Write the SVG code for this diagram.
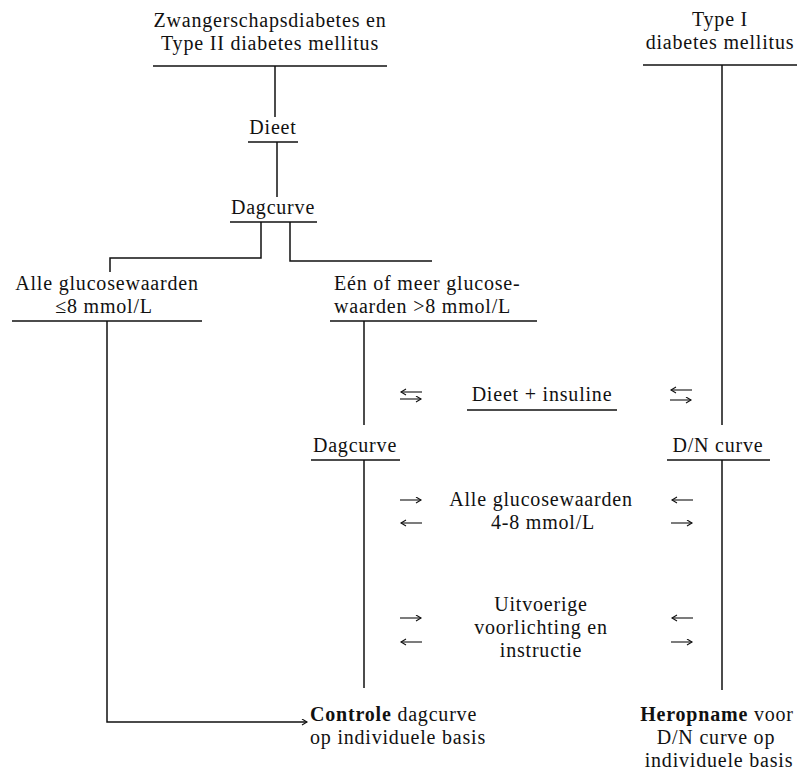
<svg xmlns="http://www.w3.org/2000/svg" width="798" height="772" viewBox="0 0 798 772">
<defs>
<style>
.t{font-family:"Liberation Serif","Times New Roman",serif;font-size:20px;letter-spacing:0.8px;fill:#111}
.c{text-anchor:middle}
.b{font-weight:bold}
.ln{stroke:#111;stroke-width:1.5;fill:none}
.ul{stroke:#111;stroke-width:1.6}
.ar{stroke:#111;stroke-width:1.1;fill:none;marker-end:url(#h)}
</style>
<marker id="h" markerUnits="userSpaceOnUse" markerWidth="8" markerHeight="8" refX="6" refY="3.5" orient="auto">
<path d="M1,0.5 L6,3.5 L1,6.5" fill="none" stroke="#111" stroke-width="1.1"/>
</marker>
</defs>
<rect width="798" height="772" fill="#fff"/>

<g id="connectors">
<path class="ln" d="M275,66 V117"/>
<path class="ln" d="M277,142 V197"/>
<path class="ln" d="M261,222 V258 H110 V272"/>
<path class="ln" d="M290,222 V261 H432"/>
<path class="ln" d="M364,321 V425"/>
<path class="ln" d="M722,65 V425"/>
<path class="ln" d="M364,460 V688"/>
<path class="ln" d="M722,460 V690"/>
<path class="ln" d="M107,321 V722 H307" marker-end="url(#h)"/>
</g>

<g id="n-zwanger">
<text class="t c" x="270" y="27">Zwangerschapsdiabetes en</text>
<text class="t c" x="270" y="50">Type II diabetes mellitus</text>
<line class="ul" x1="153" y1="66" x2="387" y2="66"/>
</g>

<g id="n-type1">
<text class="t c" x="720" y="26">Type I</text>
<text class="t c" x="720" y="49">diabetes mellitus</text>
<line class="ul" x1="643" y1="65" x2="797" y2="65"/>
</g>

<g id="n-dieet">
<text class="t c" x="273" y="134">Dieet</text>
<line class="ul" x1="248" y1="142" x2="298" y2="142"/>
</g>

<g id="n-dagcurve1">
<text class="t c" x="273" y="214">Dagcurve</text>
<line class="ul" x1="230" y1="222" x2="317" y2="222"/>
</g>

<g id="n-alle8">
<text class="t c" x="107" y="290">Alle glucosewaarden</text>
<text class="t c" x="104" y="313">≤8 mmol/L</text>
<line class="ul" x1="12" y1="321" x2="202" y2="321"/>
</g>

<g id="n-meer8">
<text class="t" x="334" y="290">Eén of meer glucose-</text>
<text class="t" x="334" y="313">waarden &gt;8 mmol/L</text>
<line class="ul" x1="330" y1="321" x2="537" y2="321"/>
</g>

<g id="n-insuline">
<text class="t c" x="542" y="401">Dieet + insuline</text>
<line class="ul" x1="467" y1="410" x2="617" y2="410"/>
</g>

<g id="n-dagcurve2">
<text class="t c" x="355" y="452">Dagcurve</text>
<line class="ul" x1="311" y1="460" x2="400" y2="460"/>
</g>

<g id="n-dncurve">
<text class="t c" x="718" y="452">D/N curve</text>
<line class="ul" x1="667" y1="460" x2="770" y2="460"/>
</g>

<g id="n-alle48">
<text class="t c" x="541" y="506">Alle glucosewaarden</text>
<text class="t c" x="543" y="529">4-8 mmol/L</text>
</g>

<g id="n-voorlichting">
<text class="t c" x="541" y="611">Uitvoerige</text>
<text class="t c" x="541" y="634">voorlichting en</text>
<text class="t c" x="541" y="657">instructie</text>
</g>

<g id="n-controle">
<text class="t" x="310" y="721"><tspan class="b">Controle</tspan> dagcurve</text>
<text class="t" x="310" y="744">op individuele basis</text>
</g>

<g id="n-heropname">
<text class="t c" x="717" y="721"><tspan class="b">Heropname</tspan> voor</text>
<text class="t c" x="716" y="744">D/N curve op</text>
<text class="t c" x="719" y="767">individuele basis</text>
</g>

<g id="side-arrows">
<path class="ar" d="M422,392 H401"/>
<path class="ar" d="M400,399 H421"/>
<path class="ar" d="M692,390 H671"/>
<path class="ar" d="M670,400 H691"/>
<path class="ar" d="M400,500 H421"/>
<path class="ar" d="M422,523 H401"/>
<path class="ar" d="M693,500 H672"/>
<path class="ar" d="M671,523 H692"/>
<path class="ar" d="M400,618 H421"/>
<path class="ar" d="M422,642 H401"/>
<path class="ar" d="M693,618 H672"/>
<path class="ar" d="M671,642 H692"/>
</g>
</svg>
